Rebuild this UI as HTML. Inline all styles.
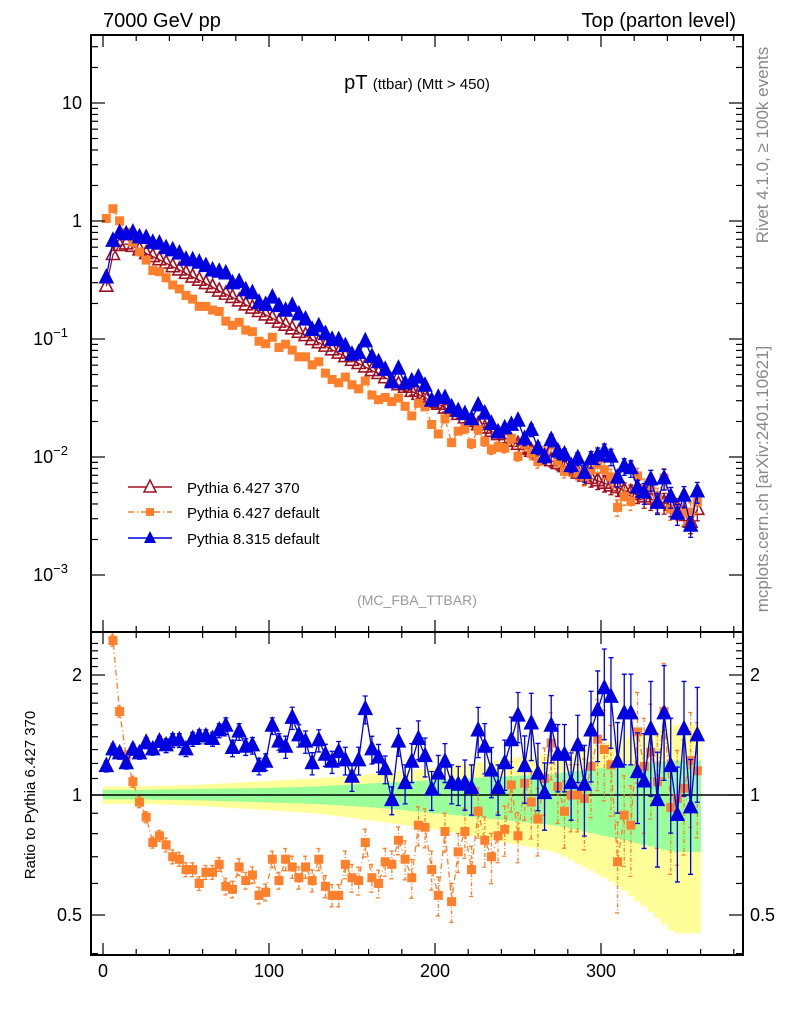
<!DOCTYPE html>
<html><head><meta charset="utf-8"><style>
body{margin:0;background:#fff;}
svg{display:block;font-family:"Liberation Sans",sans-serif;}
</style></head><body>
<svg id="chart" width="786" height="1024" viewBox="0 0 786 1024">
<g id="bands"></g>
<g id="marks"></g>
<g id="axes"></g>
<text x="103" y="27" font-size="20">7000 GeV pp</text>
<text x="736" y="27" font-size="20" text-anchor="end">Top (parton level)</text>
<text x="417" y="89" text-anchor="middle" font-size="20">pT <tspan font-size="15">(ttbar) (Mtt &gt; 450)</tspan></text>
<text x="417" y="605" text-anchor="middle" font-size="14" fill="#999">(MC_FBA_TTBAR)</text>
<text transform="translate(768,145) rotate(-90)" text-anchor="middle" font-size="17" fill="#888">Rivet 4.1.0, ≥ 100k events</text>
<text transform="translate(768,479) rotate(-90)" text-anchor="middle" font-size="17" fill="#888">mcplots.cern.ch [arXiv:2401.10621]</text>
<text transform="translate(35,795) rotate(-90)" text-anchor="middle" font-size="15">Ratio to Pythia 6.427 370</text>
<g>
 <g>
  <line x1="128" y1="487" x2="172" y2="487" stroke="#a01020" stroke-width="1.5"/>
  <polygon points="150,480 156,492 144,492" fill="#fff" stroke="#a01020" stroke-width="1.5"/>
  <text x="187" y="493" font-size="15">Pythia 6.427 370</text>
 </g>
 <g>
  <line x1="128" y1="512" x2="172" y2="512" stroke="#ff7f2a" stroke-width="1.5" stroke-dasharray="6,3,1,3"/>
  <rect x="146" y="508" width="8" height="8" fill="#ff7f2a"/>
  <text x="187" y="518" font-size="15">Pythia 6.427 default</text>
 </g>
 <g>
  <line x1="128" y1="538" x2="172" y2="538" stroke="#0000e0" stroke-width="1.5"/>
  <polygon points="150,531 156,543 144,543" fill="#0000e0"/>
  <text x="187" y="544" font-size="15">Pythia 8.315 default</text>
 </g>
</g>
</svg>
<script>
const binCenters=[2,6,10,14,18,22,26,30,34,38,42,46,50,54,58,62,66,70,74,78,82,86,90,94,98,102,106,110,114,118,122,126,130,134,138,142,146,150,154,158,162,166,170,174,178,182,186,190,194,198,202,206,210,214,218,222,226,230,234,238,242,246,250,254,258,262,266,270,274,278,282,286,290,294,298,302,306,310,314,318,322,326,330,334,338,342,346,350,354,358];
const refValues=[0.28,0.52,0.62,0.64,0.61,0.57,0.53,0.5,0.47,0.44,0.41,0.385,0.36,0.335,0.315,0.295,0.275,0.255,0.24,0.225,0.21,0.195,0.183,0.171,0.16,0.15,0.139,0.131,0.122,0.114,0.107,0.099,0.093,0.087,0.081,0.076,0.071,0.066,0.062,0.058,0.054,0.051,0.047,0.044,0.041,0.039,0.036,0.034,0.032,0.029,0.028,0.026,0.0245,0.023,0.0215,0.02,0.0188,0.0176,0.0165,0.0155,0.0145,0.0136,0.0128,0.012,0.0112,0.0105,0.0099,0.0093,0.0088,0.0083,0.0078,0.0073,0.0069,0.0066,0.0063,0.006,0.0057,0.0055,0.0052,0.005,0.0048,0.0046,0.0044,0.0042,0.0041,0.0039,0.0037,0.0032,0.0028,0.0036];
const blueRatio=[1.18,1.3,1.27,1.2,1.3,1.27,1.35,1.3,1.36,1.33,1.37,1.37,1.3,1.38,1.4,1.4,1.38,1.45,1.49,1.31,1.44,1.32,1.33,1.18,1.21,1.49,1.36,1.32,1.56,1.41,1.36,1.2,1.37,1.26,1.21,1.28,1.22,1.11,1.22,1.64,1.3,1.24,1.16,0.97,1.36,1.07,1.21,1.38,1.25,1.03,1.13,1.21,1.07,1.06,1.07,1.04,1.45,1.32,1.15,1.04,1.2,1.37,1.58,1.18,1.51,1.13,1.01,1.49,1.26,1.26,1.07,1.33,1.06,1.45,1.63,1.85,1.76,1.21,1.6,1.6,1.14,1.08,1.46,0.97,1.6,1.18,0.89,1.46,0.93,1.41];
const orangeRatio=[3.75,2.44,1.62,1.25,1.08,0.96,0.88,0.76,0.79,0.75,0.7,0.69,0.65,0.65,0.6,0.64,0.64,0.67,0.59,0.58,0.66,0.61,0.63,0.56,0.57,0.69,0.61,0.69,0.66,0.62,0.66,0.61,0.69,0.59,0.56,0.56,0.67,0.62,0.61,0.76,0.62,0.6,0.68,0.67,0.77,0.69,0.62,0.84,0.83,0.65,0.56,0.81,0.54,0.72,0.81,0.65,0.91,0.77,0.7,0.79,0.82,1.06,0.79,1.07,0.96,0.87,1.1,1.35,1.05,0.91,1.0,1.0,0.98,1.18,1.38,1.3,1.19,0.68,0.89,0.84,1.44,1.18,1.28,1.08,1.62,0.93,0.98,1.04,1.22,1.15];
const errRel=[0.02,0.025,0.03,0.04,0.05,0.07,0.09,0.12,0.16,0.2];
const yellowUp=[1.05,1.06,1.08,1.1,1.13,1.17,1.22,1.28,1.36,1.5];
const yellowLo=[0.95,0.94,0.92,0.9,0.86,0.82,0.77,0.72,0.6,0.45];
const greenUp=[1.03,1.035,1.04,1.05,1.07,1.09,1.11,1.13,1.18,1.22];
const greenLo=[0.975,0.97,0.96,0.95,0.93,0.9,0.87,0.84,0.78,0.72];
const xTicks=[0,100,200,300];
const mainYTicks=[10,1,0.1,0.01,0.001];
const ratioYTicks=[2,1,0.5];

const NS="http://www.w3.org/2000/svg";
const L=91,R=743,MT=35,MB=632,RT=632,RB=955;
const xs=v=>103+v*1.66;
const ym=v=>221-118*Math.log10(v);
const yr=v=>795-120*Math.log2(v);
function mk(tag,attrs,parent){const e=document.createElementNS(NS,tag);for(const k in attrs)e.setAttribute(k,attrs[k]);parent.appendChild(e);return e;}
const bands=document.getElementById('bands'),marks=document.getElementById('marks'),axes=document.getElementById('axes');
const svg=document.getElementById('chart');
const defs=mk('defs',{},svg);
const c1=mk('clipPath',{id:'cm'},defs);mk('rect',{x:L,y:MT,width:R-L,height:MB-MT},c1);
const c2=mk('clipPath',{id:'cr'},defs);mk('rect',{x:L,y:RT,width:R-L,height:RB-RT},c2);

function interp(arr,i){const f=i/9-0.5;const a=Math.max(0,Math.min(9,Math.floor(f)));const b=Math.min(9,a+1);const t=Math.max(0,Math.min(1,f-a));return arr[a]*(1-t)+arr[b]*t;}
for(let i=0;i<binCenters.length;i++){
  const x0=xs(binCenters[i]-2),x1=xs(binCenters[i]+2);
  const yU=interp(yellowUp,i),yL=interp(yellowLo,i),gU=interp(greenUp,i),gL=interp(greenLo,i);
  const yb=mk('rect',{x:x0,y:yr(yU),width:x1-x0+0.3,height:yr(yL)-yr(yU),fill:'#ffff99'},bands);
  
  
  const gb=mk('rect',{x:x0,y:yr(gU),width:x1-x0+0.3,height:yr(gL)-yr(gU),fill:'#99ff99'},bands);
  
  
}
const one=mk('line',{x1:L,x2:R,y1:yr(1),y2:yr(1),stroke:'#000','stroke-width':1.5},bands);



const series=[
 {name:'pythia6-370',col:'#a01020',vals:refValues,ratio:refValues.map(()=>1),shape:'open',dash:null,showRatio:false},
 {name:'pythia6-default',col:'#ff7f2a',vals:refValues.map((v,i)=>v*orangeRatio[i]),ratio:orangeRatio,shape:'sq',dash:'6,3,1,3',showRatio:true},
 {name:'pythia8-default',col:'#0000e0',vals:refValues.map((v,i)=>v*blueRatio[i]),ratio:blueRatio,shape:'tri',dash:null,showRatio:true}
];
function marker(s,x,y,parent){
  let e;
  if(s.shape==='sq'){e=mk('rect',{x:x-4.5,y:y-4.5,width:9,height:9,fill:s.col},parent);}
  else{e=mk('polygon',{points:`${x},${y-8} ${x+6.5},${y+5} ${x-6.5},${y+5}`,fill:s.shape==='open'?'none':s.col,stroke:s.col,'stroke-width':1.6},parent);}
  return e;
}
function drawPanel(s,vals,yf,clip,isRatio){
  const g=mk('g',{'clip-path':`url(#${clip})`},marks);
  
  
  const pts=vals.map((v,i)=>xs(binCenters[i]).toFixed(1)+','+yf(v).toFixed(1)).join(' ');
  const pl=mk('polyline',{points:pts,fill:'none',stroke:s.col,'stroke-width':1.3},g);
  if(s.dash)pl.setAttribute('stroke-dasharray',s.dash);
  
  
  vals.forEach((v,i)=>{
    const x=xs(binCenters[i]);const e=errRel[Math.floor(i/9)]*(isRatio?1.6:1);
    const y1=yf(v*(1+e)),y2=yf(v*(1-e));
    if(y2-y1>6){
      const eb=mk('path',{d:`M${x},${y1}V${y2}M${x-2.5},${y1}H${x+2.5}M${x-2.5},${y2}H${x+2.5}`,stroke:s.col,'stroke-width':1.3,fill:'none'},g);
      if(s.dash)eb.setAttribute('stroke-dasharray','4,2,1,2');
      
      
    }
    const m=marker(s,x,yf(v),g);
    
    
  });
}
series.forEach(s=>drawPanel(s,s.vals,ym,'cm',false));
series.forEach(s=>{if(s.showRatio)drawPanel(s,s.ratio,yr,'cr',true);});

const f1=mk('rect',{x:L,y:MT,width:R-L,height:MB-MT,fill:'none',stroke:'#000','stroke-width':2},axes);


const f2=mk('rect',{x:L,y:RT,width:R-L,height:RB-RT,fill:'none',stroke:'#000','stroke-width':2},axes);


function tk(x1,y1,x2,y2){mk('line',{x1,y1,x2,y2,stroke:'#000','stroke-width':1.2},axes);}
for(let v=0;v<=380;v+=20){const x=xs(v);const maj=v%100===0;const len=maj?12:6;
  [MT,RT].forEach(t=>tk(x,t,x,t+len));[MB,RB].forEach(b=>tk(x,b,x,b-len));}
xTicks.forEach(v=>{const t=mk('text',{x:xs(v),y:977,'font-size':18,'text-anchor':'middle'},axes);t.textContent=v;
  
  });
for(let d=-3;d<=1;d++){for(let k=1;k<=9;k++){const v=k*Math.pow(10,d);const y=ym(v);if(y<MT||y>MB)continue;const len=k===1?14:7;tk(L,y,L+len,y);tk(R,y,R-len,y);}}
mainYTicks.forEach(v=>{const y=ym(v)+6;const t=mk('text',{x:82,y:y,'font-size':18,'text-anchor':'end'},axes);
  const e=Math.round(Math.log10(v));
  if(e===1)t.textContent='10';else if(e===0)t.textContent='1';else{t.textContent='10';const s=mk('tspan',{dy:-8,'font-size':13},t);s.textContent='−'+(-e);t.setAttribute('x',68);}
  
  });
for(let v=0.4;v<=2.5;v+=0.1){const y=yr(v);if(y<RT||y>RB)continue;const r=Math.round(v*10);const maj=r===5||r===10||r===20;const len=maj?14:7;tk(L,y,L+len,y);tk(R,y,R-len,y);}
ratioYTicks.forEach(v=>{const y=yr(v)+6;
  const t=mk('text',{x:82,y:y,'font-size':18,'text-anchor':'end'},axes);t.textContent=v;
  
  
  const t2=mk('text',{x:750,y:y,'font-size':18},axes);t2.textContent=v;
  
  });
</script>
</body></html>
